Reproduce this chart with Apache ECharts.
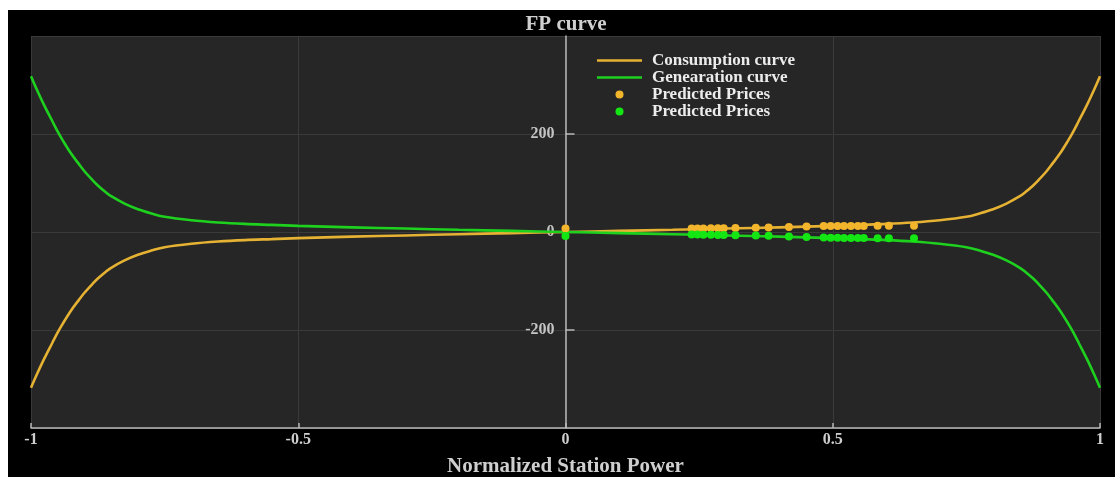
<!DOCTYPE html>
<html>
<head>
<meta charset="utf-8">
<script src="https://cdn.jsdelivr.net/npm/echarts@6/dist/echarts.min.js"></script>
<style>
html,body{margin:0;padding:0;background:#fff;width:1115px;height:477px;overflow:hidden;}
#c{position:absolute;left:8px;top:10px;width:1107px;height:467px;background:#000;}
</style>
</head>
<body>
<div id="c"></div>
<script>
// ---- data ----
const curveX = [-1, -0.99, -0.975, -0.96, -0.95, -0.94, -0.925, -0.91, -0.9, -0.885, -0.875, -0.86, -0.85, -0.825, -0.8, -0.775, -0.75, -0.7, -0.65, -0.6, -0.55, -0.5, -0.4, -0.3, -0.2, -0.1, 0,
                0.1, 0.2, 0.3, 0.4, 0.5, 0.55, 0.6, 0.65, 0.7, 0.75, 0.775, 0.8, 0.825, 0.85, 0.86, 0.875, 0.885, 0.9, 0.91, 0.925, 0.94, 0.95, 0.96, 0.975, 0.99, 1];
const consumption = [-318, -293, -258, -226, -205, -186, -160, -138, -124, -106, -95, -81, -73, -58, -46.5, -38, -31, -24, -19.5, -16.5, -14.5, -12.5, -9.5, -7, -4.5, -2.2, 0,
                2.2, 4.5, 7, 9.5, 12.5, 14.5, 16.5, 19.5, 24, 31, 38, 46.5, 58, 73, 81, 95, 106, 124, 138, 160, 186, 205, 226, 258, 293, 318];
const generation = [318, 293, 258, 226, 205, 186, 160, 138, 124, 106, 95, 81, 73, 58, 46.5, 38, 31, 24, 19.5, 16.5, 14.5, 12.5, 9.5, 7, 4.5, 2.2, 0,
                -2.2, -4.5, -7, -9.5, -12.5, -14.5, -16.5, -19.5, -24, -31, -38, -46.5, -58, -73, -81, -95, -106, -124, -138, -160, -186, -205, -226, -258, -293, -318];
const predX = [0, 0.236, 0.247, 0.258, 0.272, 0.285, 0.296, 0.318, 0.356, 0.380, 0.418, 0.451, 0.483, 0.496, 0.509, 0.521, 0.534, 0.547, 0.558, 0.584, 0.605, 0.652];
const predConsumption = [7, 7, 7, 7, 7.5, 7.5, 7.5, 8, 8.5, 9, 10, 11, 12, 12, 12, 12, 12.5, 12.5, 12.5, 13, 13, 13];
const predGeneration = [-8, -5, -5, -5.5, -5.5, -6, -6, -6.5, -7, -7.5, -9, -10, -11, -11.5, -11.5, -12, -12, -12, -12, -12.5, -13, -13];
const xTicks = [-1, -0.5, 0, 0.5, 1];
const yTicks = [-200, 0, 200];

const zip = (a, b) => a.map((v, i) => [v, b[i]]);
const FONT = '"Liberation Serif", "DejaVu Serif", serif';
const GRID = {left: 23, right: 15, top: 26, bottom: 49};
const DIV_W = 1107;
const plotW = DIV_W - GRID.left - GRID.right;
const LINE_ICON = 'path://M0,0h45v2.6h-45z';

const chart = echarts.init(document.getElementById('c'), null, {renderer: 'canvas'});
chart.setOption({
  backgroundColor: '#000',
  animation: false,
  title: {
    text: 'FP curve', left: 553, textAlign: 'center', top: -1,
    textStyle: {color: '#cfcfcf', fontFamily: FONT, fontWeight: 'bold', fontSize: 21}
  },
  grid: Object.assign({show: true, backgroundColor: '#262626', borderWidth: 0, containLabel: false, outerBoundsMode: 'none'}, GRID),
  legend: {
    orient: 'vertical', left: 584, top: 37, itemWidth: 45, itemHeight: 8, itemGap: 0,
    symbolKeepAspect: true,
    textStyle: {color: '#ececec', fontFamily: FONT, fontWeight: 'bold', fontSize: 17, padding: [0, 0, 0, 5]},
    data: [
      {name: 'Consumption curve', icon: LINE_ICON},
      {name: 'Genearation curve', icon: LINE_ICON},
      {name: 'Predicted Prices', icon: 'circle'},
      {name: 'Predicted Prices ', icon: 'circle'}
    ]
  },
  xAxis: {
    type: 'value', min: -1, max: 1, interval: 0.5,
    name: 'Normalized Station Power', nameLocation: 'middle', nameGap: 28,
    nameTextStyle: {color: '#cfcfcf', fontFamily: FONT, fontWeight: 'bold', fontSize: 21},
    axisLine: {onZero: false, lineStyle: {color: '#b8b8b8', width: 1.5}},
    axisTick: {inside: true, length: 5, lineStyle: {color: '#b8b8b8', width: 1.5}},
    axisLabel: {color: '#cfcfcf', fontFamily: FONT, fontWeight: 'bold', fontSize: 16, margin: 4,
      formatter: v => xTicks.includes(v) ? String(v) : ''},
    splitLine: {show: true, lineStyle: {color: '#3a3a3a', width: 1}}
  },
  yAxis: {
    type: 'value', min: -400, max: 400, interval: 200,
    offset: -plotW / 2,
    axisLine: {show: true, onZero: false, lineStyle: {color: '#b8b8b8', width: 1.5}},
    axisTick: {show: true, inside: true, length: 9, lineStyle: {color: '#b8b8b8', width: 1.5}},
    axisLabel: {color: '#c4c4c4', fontFamily: FONT, fontWeight: 'bold', fontSize: 16, margin: 11,
      showMinLabel: false, showMaxLabel: false,
      formatter: v => yTicks.includes(v) ? String(v) : ''},
    splitLine: {show: true, lineStyle: {color: '#3a3a3a', width: 1}}
  },
  series: [
    {name: 'Consumption curve', type: 'line', data: zip(curveX, consumption), symbol: 'none', smooth: 0.35,
     lineStyle: {color: '#e6b233', width: 2.6}, itemStyle: {color: '#e6b233'}, z: 2},
    {name: 'Genearation curve', type: 'line', data: zip(curveX, generation), symbol: 'none', smooth: 0.35,
     lineStyle: {color: '#1fd11f', width: 2.6}, itemStyle: {color: '#1fd11f'}, z: 2},
    {name: 'Predicted Prices', type: 'scatter', data: zip(predX, predConsumption), symbolSize: 8,
     itemStyle: {color: '#f2b52c', opacity: 1}, z: 3},
    {name: 'Predicted Prices ', type: 'scatter', data: zip(predX, predGeneration), symbolSize: 8,
     itemStyle: {color: '#14e614', opacity: 1}, z: 3}
  ]
});
</script>
</body>
</html>
